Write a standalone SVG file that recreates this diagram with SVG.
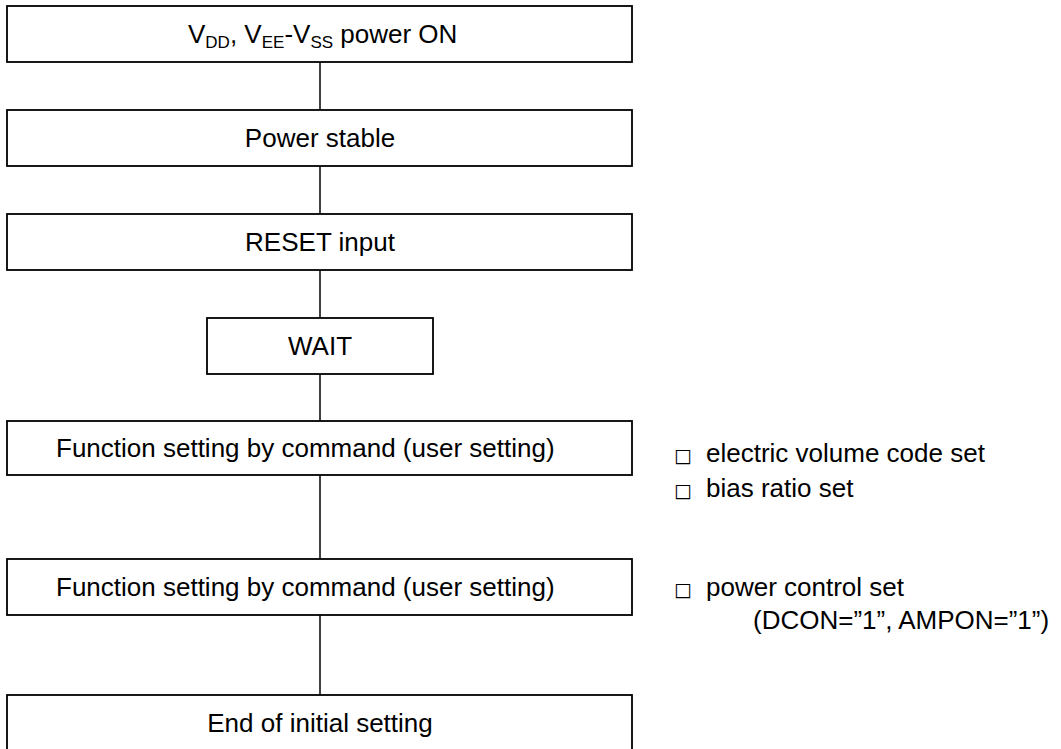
<svg xmlns="http://www.w3.org/2000/svg" width="1061" height="749" viewBox="0 0 1061 749">
<style>
.box{fill:#fff;stroke:#000;stroke-width:1.8}
.ln{stroke:#000;stroke-width:1.5;fill:none}
text{font-family:"Liberation Sans",Arial,sans-serif;font-size:26px;fill:#000}
.c{text-anchor:middle}
.sub{font-size:17px}
.chk{font-family:"DejaVu Sans",sans-serif;font-size:19px}
</style>
<rect width="1061" height="749" fill="#fff"/>
<g id="connectors">
<line class="ln" x1="320" y1="62" x2="320" y2="110"/>
<line class="ln" x1="320" y1="166" x2="320" y2="214"/>
<line class="ln" x1="320" y1="270" x2="320" y2="318"/>
<line class="ln" x1="320" y1="374" x2="320" y2="421"/>
<line class="ln" x1="320" y1="475" x2="320" y2="559"/>
<line class="ln" x1="320" y1="615" x2="320" y2="695"/>
</g>
<g id="n1">
<rect class="box" x="7" y="6" width="625" height="56"/>
<text x="188" y="43">V<tspan class="sub" dy="5">DD</tspan><tspan dy="-5">, V</tspan><tspan class="sub" dy="5">EE</tspan><tspan dy="-5">-V</tspan><tspan class="sub" dy="5">SS</tspan><tspan dy="-5"> power ON</tspan></text>
</g>
<g id="n2">
<rect class="box" x="7" y="110" width="625" height="56"/>
<text class="c" x="320" y="147">Power stable</text>
</g>
<g id="n3">
<rect class="box" x="7" y="214" width="625" height="56"/>
<text class="c" x="320" y="251">RESET input</text>
</g>
<g id="n4">
<rect class="box" x="207" y="318" width="226" height="56"/>
<text class="c" x="320" y="355">WAIT</text>
</g>
<g id="n5">
<rect class="box" x="7" y="421" width="625" height="54"/>
<text x="56" y="457">Function setting by command (user setting)</text>
</g>
<g id="n6">
<rect class="box" x="7" y="559" width="625" height="56"/>
<text x="56" y="596">Function setting by command (user setting)</text>
</g>
<g id="n7">
<rect class="box" x="7" y="695" width="625" height="60"/>
<text class="c" x="320" y="732">End of initial setting</text>
</g>
<g id="notes">
<text x="674" y="462"><tspan class="chk">□</tspan><tspan x="706">electric volume code set</tspan></text>
<text x="674" y="497"><tspan class="chk">□</tspan><tspan x="706">bias ratio set</tspan></text>
<text x="674" y="596"><tspan class="chk">□</tspan><tspan x="706">power control set</tspan></text>
<text x="753" y="629">(DCON=”1”, AMPON=”1”)</text>
</g>
</svg>
